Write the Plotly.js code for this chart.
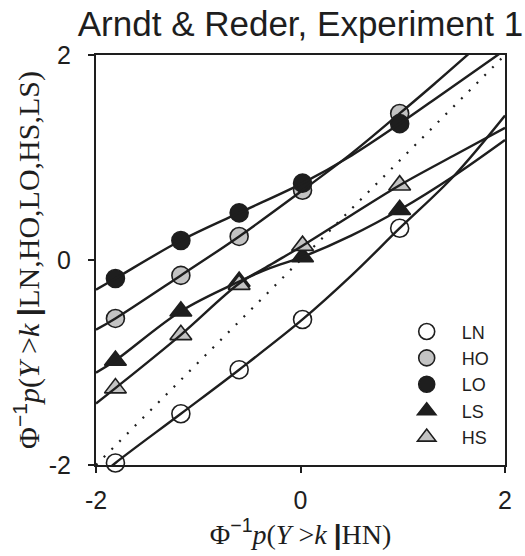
<!DOCTYPE html>
<html>
<head>
<meta charset="utf-8">
<script src="https://cdn.plot.ly/plotly-3.0.1.min.js"></script>
<style>html,body{margin:0;padding:0;background:#fff;}#chart{width:525px;height:556px;}</style>
</head>
<body>
<div id="chart"></div>
<script>
// Observed points (x = probit of HN, y = probit of condition)
const xPts = [-1.81, -1.17, -0.60, 0.02, 0.97];
const LN_y = [-1.98, -1.50, -1.07, -0.58, 0.31];
const HO_y = [-0.57, -0.15, 0.23, 0.68, 1.43];
const LO_y = [-0.18, 0.19, 0.46, 0.75, 1.33];
const LS_y = [-0.98, -0.50, -0.21, 0.03, 0.49];
const HS_y = [-1.25, -0.73, -0.24, 0.14, 0.73];

// Fitted curves
const LN_cx = [-1.95, -1.81, -1.17, -0.60, 0.02, 0.50, 0.97, 1.50, 2.00];
const LN_cy = [-2.10, -1.98, -1.50, -1.07, -0.58, -0.15, 0.31, 0.82, 1.41];
const HO_cx = [-2.00, -1.81, -1.17, -0.60, 0.02, 0.50, 0.97, 1.30, 1.70];
const HO_cy = [-0.68, -0.57, -0.15, 0.23, 0.68, 1.04, 1.43, 1.71, 2.06];
const LO_cx = [-2.00, -1.81, -1.17, -0.60, 0.02, 0.50, 0.97, 1.40, 2.00];
const LO_cy = [-0.29, -0.18, 0.19, 0.46, 0.75, 1.02, 1.33, 1.63, 2.05];
const LS_cx = [-2.00, -1.81, -1.17, -0.60, -0.30, 0.02, 0.50, 0.97, 1.50, 2.00];
const LS_cy = [-1.10, -0.98, -0.50, -0.21, -0.08, 0.03, 0.24, 0.49, 0.82, 1.17];
const HS_cx = [-2.00, -1.81, -1.17, -0.60, -0.30, 0.02, 0.50, 0.97, 1.50, 2.00];
const HS_cy = [-1.40, -1.25, -0.73, -0.23, -0.05, 0.14, 0.44, 0.73, 1.02, 1.29];
const diag = [-2, 2];

const names = ['LN', 'HO', 'LO', 'LS', 'HS'];
const tickVals = [-2, 0, 2];
const tickText = ['-2', '0', '2'];

const INK = '#1e1e1e';
const GRAY = '#c3c3c3';
const sans = 'Liberation Sans, Arial, sans-serif';
const serif = 'Liberation Serif, Times New Roman, serif';

function pts(name, y, symbol, fill, size) {
  return {x: xPts, y: y, name: name, type: 'scatter', mode: 'markers', cliponaxis: false,
    marker: {symbol: symbol, size: size, color: fill, line: {color: INK, width: 1.6}}};
}
function curve(cx, cy) {
  return {x: cx, y: cy, type: 'scatter', mode: 'lines', showlegend: false, hoverinfo: 'skip',
    line: {color: INK, width: 2.4, shape: 'spline', smoothing: 1}};
}

const data = [
  {x: diag, y: diag, type: 'scatter', mode: 'lines', showlegend: false,
   line: {color: INK, width: 2.2, dash: '2px,9px'}},
  pts(names[0], LN_y, 'circle', '#ffffff', 18),
  pts(names[1], HO_y, 'circle', GRAY, 18),
  pts(names[2], LO_y, 'circle', INK, 18),
  pts(names[3], LS_y, 'triangle-up', INK, 19),
  pts(names[4], HS_y, 'triangle-up', GRAY, 19),
  curve(LN_cx, LN_cy), curve(HO_cx, HO_cy), curve(LO_cx, LO_cy),
  curve(LS_cx, LS_cy), curve(HS_cx, HS_cy)
];

const axisCommon = {
  range: [-2, 2], tickvals: tickVals, ticktext: tickText, ticks: 'outside', ticklen: 6,
  tickwidth: 2, tickcolor: INK, showline: true, linewidth: 2, linecolor: INK, mirror: true,
  showgrid: false, zeroline: false, tickfont: {family: sans, size: 25, color: INK}
};

const sup = '<sup><span style="font-family:Liberation Sans,Arial,sans-serif">−1</span></sup>';
const bar = '<span style="font-family:Liberation Sans,Arial,sans-serif"><b>|</b></span>';

const layout = {
  width: 525, height: 556,
  margin: {l: 96, r: 20, t: 55, b: 91},
  paper_bgcolor: '#fff', plot_bgcolor: '#fff',
  title: {text: 'Arndt &amp; Reder, Experiment 1', font: {family: sans, size: 35, color: INK},
          xref: 'paper', x: 0.5, xanchor: 'center', yref: 'container', y: 0.958, yanchor: 'middle'},
  xaxis: Object.assign({}, axisCommon, {ticklabelstandoff: 6,
    title: {text: 'Φ' + sup + '<i>p</i>(<i>Y</i> &gt;<i>k</i> ' + bar + 'HN)', font: {family: serif, size: 28, color: INK}, standoff: 2}}),
  yaxis: Object.assign({}, axisCommon, {ticklabelstandoff: 12,
    title: {text: 'Φ' + sup + '<i>p</i>(<i>Y</i> &gt;<i>k</i> ' + bar + 'LN,HO,LO,HS,LS)', font: {family: serif, size: 30, color: INK}, standoff: 0}}),
  showlegend: true,
  legend: {x: 0.723, xanchor: 'left', y: 0.37, yanchor: 'top', bgcolor: 'rgba(0,0,0,0)',
           font: {family: sans, size: 18, color: INK}, itemwidth: 60, tracegroupgap: 0, itemsizing: 'trace'}
};

Plotly.newPlot('chart', data, layout, {displayModeBar: false, staticPlot: true});
</script>
</body>
</html>
